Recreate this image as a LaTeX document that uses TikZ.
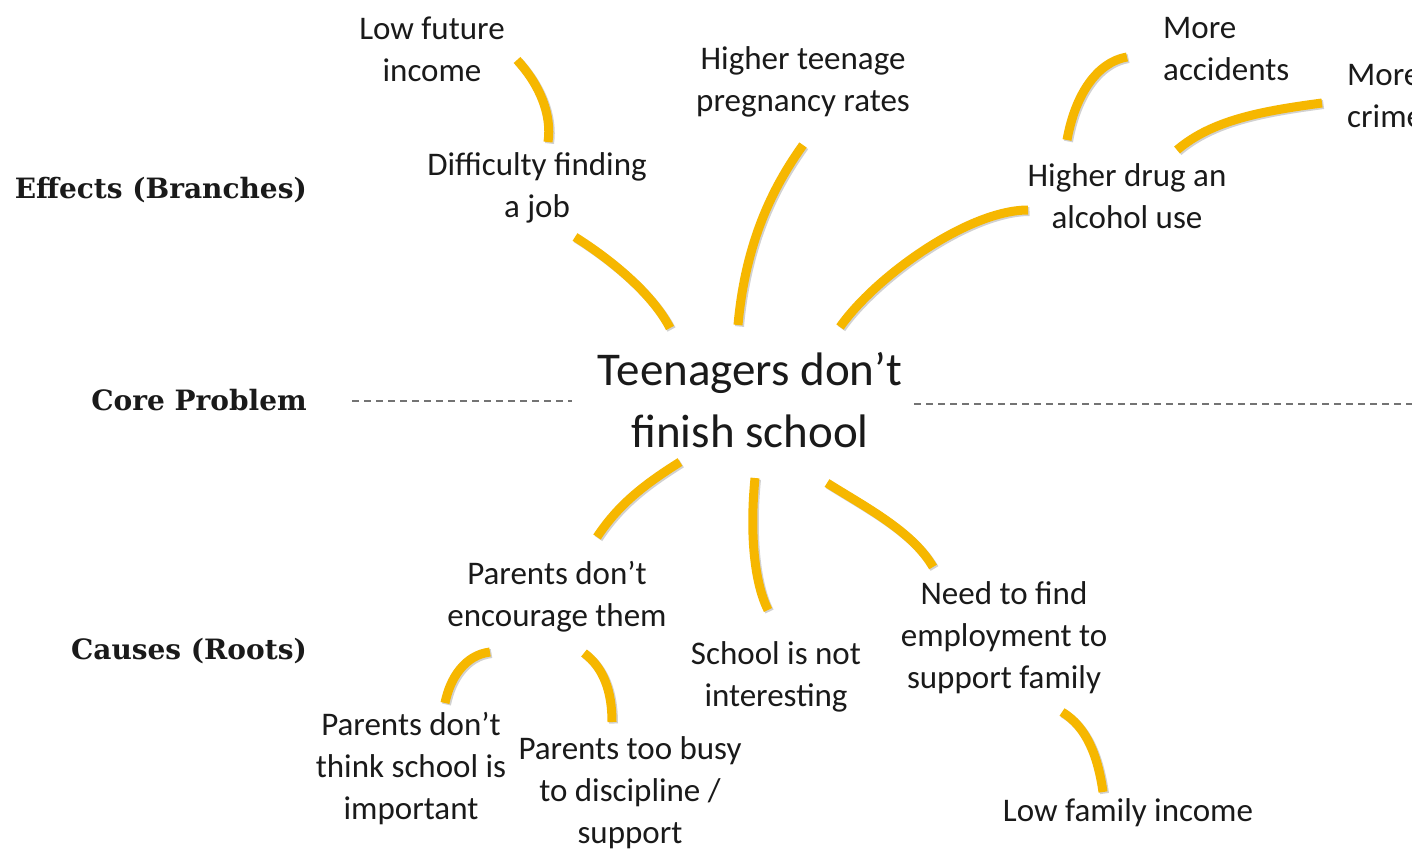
\documentclass[tikz,border=0pt]{standalone}
\usepackage{fontspec}
\setmainfont{Carlito}
\newfontfamily\tierfont{DejaVu Serif}
\usetikzlibrary{calc}
\definecolor{twig}{HTML}{F6B700}
\definecolor{ink}{HTML}{1A1A1A}

\begin{document}
\begin{tikzpicture}[x=1pt,y=-1pt,
  idea/.style={align=center,inner sep=0pt,text=ink,font=\fontsize{33}{42}\selectfont},
  problem/.style={align=center,inner sep=0pt,text=ink,font=\fontsize{47}{62}\selectfont},
  tier/.style={anchor=east,inner sep=0pt,text=ink,font=\tierfont\bfseries\fontsize{28}{32}\selectfont},
  branch/.style={draw=twig,line width=9pt,preaction={draw=black!18,line width=9pt,transform canvas={xshift=1.5pt,yshift=-1.5pt}}},
  level/.style={draw=black!55,line width=1.4pt,dash pattern=on 7pt off 5pt}]
\useasboundingbox (0,0) rectangle (1412,854);
\fill[white] (0,0) rectangle (1412,854);
\clip (0,0) rectangle (1412,854);

\node[tier] (effects) at (307,190) {Effects (Branches)};
\node[tier] (coreLbl) at (307,400) {Core Problem};
\node[tier] (causes) at (307,651) {Causes (Roots)};

\node[problem] (core) at (750,400) {Teenagers don’t\\finish school};
\node[idea] (lowinc) at (432,49) {Low future\\income};
\node[idea] (job) at (537,188) {Difficulty finding\\a job};
\node[idea] (preg) at (803,82) {Higher teenage\\pregnancy rates};
\node[idea] (drug) at (1127,196) {Higher drug an\\alcohol use};
\node[idea,align=left,anchor=west] (acc) at (1163,49) {More\\accidents};
\node[idea,align=left,anchor=west] (crime) at (1347,96) {More\\crime};
\node[idea] (enc) at (557,597) {Parents don’t\\encourage them};
\node[idea] (notint) at (776,677) {School is not\\interesting};
\node[idea] (employ) at (1004,638) {Need to find\\employment to\\support family};
\node[idea] (notimp) at (411,769) {Parents don’t\\think school is\\important};
\node[idea] (busy) at (630,793) {Parents too busy\\to discipline /\\support};
\node[idea] (faminc) at (1128,813) {Low family income};

\path[branch] ($(lowinc)+(85,11)$) .. controls +(23,25) and +(4,-27) .. ($(job)+(11,-46)$);
\path[branch] ($(job)+(38,49)$) .. controls +(35,22) and +(-18,-35) .. ($(core)+(-80,-72)$);
\path[branch] ($(preg)+(0,63)$) .. controls +(-25,35) and +(8,-90) .. ($(core)+(-12,-75)$);
\path[branch] ($(drug)+(-99,14)$) .. controls +(-60,0) and +(35,-50) .. ($(core)+(90,-73)$);
\path[branch] ($(drug)+(-60,-56)$) .. controls +(8,-45) and +(-30,5) .. ($(acc.west)+(-36,8)$);
\path[branch] ($(drug)+(50,-46)$) .. controls +(35,-30) and +(-60,8) .. ($(crime.west)+(-25,7)$);
\path[branch] ($(core)+(-70,62)$) .. controls +(-40,25) and +(20,-30) .. ($(enc)+(40,-60)$);
\path[branch] ($(core)+(5,78)$) .. controls +(-5,50) and +(-15,-30) .. ($(notint)+(-8,-67)$);
\path[branch] ($(core)+(77,83)$) .. controls +(40,25) and +(-20,-35) .. ($(employ)+(-71,-71)$);
\path[branch] ($(enc)+(-67,55)$) .. controls +(-25,3) and +(5,-25) .. ($(notimp)+(34,-66)$);
\path[branch] ($(enc)+(27,56)$) .. controls +(20,15) and +(0,-30) .. ($(busy)+(-18,-71)$);
\path[branch] ($(employ)+(58,74)$) .. controls +(25,15) and +(-5,-35) .. ($(faminc)+(-25,-21)$);

\draw[level] ($(coreLbl.east)+(45,1)$) -- ($(core)+(-178,1)$);
\coordinate (rim) at (1412,404);
\draw[level] ($(core)+(164,4)$) -- (rim);
\end{tikzpicture}
\end{document}
